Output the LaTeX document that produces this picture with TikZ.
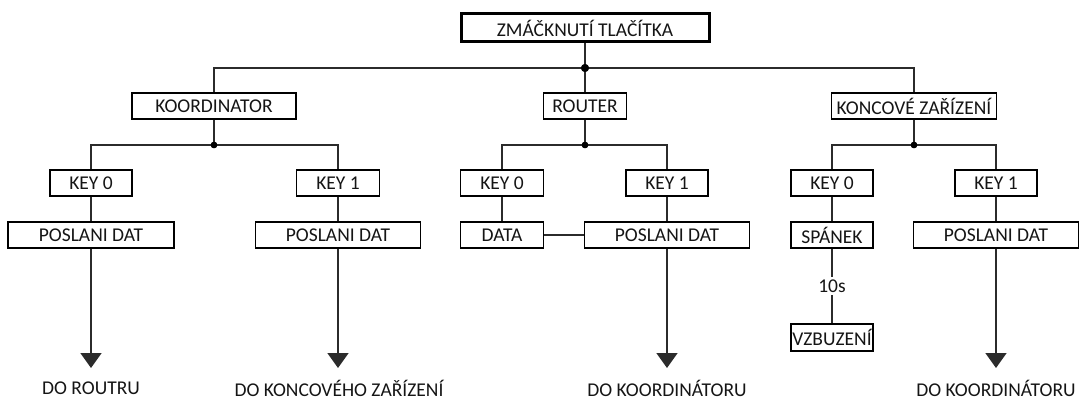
\documentclass[tikz,border=0pt]{standalone}
\usepackage{fontspec}
\setmainfont{Carlito}
\usetikzlibrary{arrows.meta}
\definecolor{wire}{HTML}{2b2b2b}
\definecolor{ink}{HTML}{151515}
\tikzset{
  txt/.style={font=\fontsize{19.5}{22}\selectfont, text=ink},
  box/.style={draw=black, line width=1.5pt, fill=white, minimum height=26pt,
    inner sep=0pt, txt},
  mainbox/.style={box, line width=3pt, minimum height=28pt},
  wireline/.style={draw=wire, line width=1.6pt},
  flow/.style={wireline, -{Triangle[width=21pt,length=15pt]}},
  dot/.style={circle, fill=black, inner sep=0pt, minimum size=8pt},
  smalldot/.style={circle, fill=black, inner sep=0pt, minimum size=6.5pt},
  endlabel/.style={txt, inner sep=0pt}
}
\begin{document}
\begin{tikzpicture}[x=1pt, y=-1pt]
\useasboundingbox (0,0) rectangle (1084,401);

% top level
\node[mainbox, minimum width=248pt] (press) at (585,28) {ZMÁČKNUTÍ TLAČÍTKA};
\node[dot] (j0) at (585,68) {};

% device types
\node[box, minimum width=164pt] (koord) at (214,106) {KOORDINATOR};
\node[box, minimum width=83pt]  (router) at (585,106) {ROUTER};
\node[box, minimum width=165pt] (konc) at (914,106) {KONCOVÉ ZAŘÍZENÍ};

\node[smalldot] (jk) at (214,145) {};
\node[smalldot] (jr) at (585,145) {};
\node[smalldot] (jc) at (914,145) {};

% coordinator branch
\node[box, minimum width=82pt]  (kk0) at (91,183) {KEY 0};
\node[box, minimum width=83pt]  (kk1) at (338,183) {KEY 1};
\node[box, minimum width=166pt] (kpd0) at (91,235) {POSLANI DAT};
\node[box, minimum width=165pt] (kpd1) at (338,235) {POSLANI DAT};

% router branch
\node[box, minimum width=83pt]  (rk0) at (502,183) {KEY 0};
\node[box, minimum width=82pt]  (rk1) at (667,183) {KEY 1};
\node[box, minimum width=83pt]  (rdata) at (502,235) {DATA};
\node[box, minimum width=165pt] (rpd) at (667,235) {POSLANI DAT};

% end device branch
\node[box, minimum width=82pt]  (ck0) at (832,183) {KEY 0};
\node[box, minimum width=82pt]  (ck1) at (996,183) {KEY 1};
\node[box, minimum width=82pt]  (sleep) at (832,235) {SPÁNEK};
\node[box, minimum width=82pt, minimum height=27pt] (wake) at (832,337.5) {VZBUZENÍ};
\node[box, minimum width=165pt] (cpd) at (996,235) {POSLANI DAT};

% arrow ends
\coordinate (e1) at (91,368);
\coordinate (e2) at (338,368);
\coordinate (e3) at (667,368);
\coordinate (e4) at (996,368);

\node[endlabel] (l1) at (91,388) {DO ROUTRU};
\node[endlabel] (l2) at (339,388) {DO KONCOVÉHO ZAŘÍZENÍ};
\node[endlabel] (l3) at (667,388) {DO KOORDINÁTORU};
\node[endlabel] (l4) at (996,388) {DO KOORDINÁTORU};

% connectors
\draw[wireline] (press.south) -- (j0.center);
\draw[wireline] (j0.center) -| (koord.north);
\draw[wireline] (j0.center) -| (konc.north);
\draw[wireline] (j0.center) -- (router.north);

\draw[wireline] (koord.south) -- (jk.center);
\draw[wireline] (router.south) -- (jr.center);
\draw[wireline] (konc.south) -- (jc.center);

\draw[wireline] (jk.center) -| (kk0.north);
\draw[wireline] (jk.center) -| (kk1.north);
\draw[wireline] (jr.center) -| (rk0.north);
\draw[wireline] (jr.center) -| (rk1.north);
\draw[wireline] (jc.center) -| (ck0.north);
\draw[wireline] (jc.center) -| (ck1.north);

\draw[wireline] (kk0.south) -- (kpd0.north);
\draw[wireline] (kk1.south) -- (kpd1.north);
\draw[wireline] (rk0.south) -- (rdata.north);
\draw[wireline] (rk1.south) -- (rpd.north);
\draw[wireline] (rdata.east) -- (rpd.west);
\draw[wireline] (ck0.south) -- (sleep.north);
\draw[wireline] (ck1.south) -- (cpd.north);

\draw[wireline] (sleep.south) -- node[fill=white, inner sep=3pt, txt] (ten) {10s} (wake.north);

\draw[flow] (kpd0.south) -- (e1);
\draw[flow] (kpd1.south) -- (e2);
\draw[flow] (rpd.south) -- (e3);
\draw[flow] (cpd.south) -- (e4);

% junction dots on top of the wires
\fill (j0) circle (4pt);
\fill (jk) circle (3.25pt);
\fill (jr) circle (3.25pt);
\fill (jc) circle (3.25pt);
\end{tikzpicture}
\end{document}
